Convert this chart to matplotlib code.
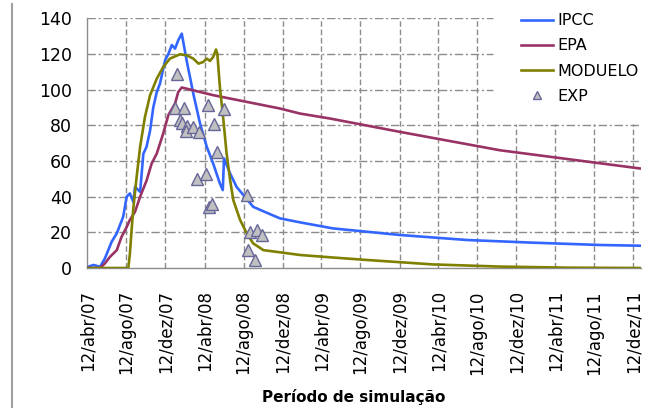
import datetime as dt
import matplotlib
matplotlib.use("Agg")
import matplotlib.pyplot as plt
from matplotlib.lines import Line2D

# Simulation start date; x values are days since this date
start_date = dt.date(2007, 4, 12)

# IPCC model
ipcc_days = [0, 3, 19, 40, 55, 76, 92, 112, 123, 133, 144, 149, 165, 175, 185,
             196, 206, 217, 227, 243, 253, 264, 274, 284, 295, 310, 331, 352,
             373, 393, 414, 423, 427, 446, 466, 487, 518, 560, 602, 664, 767,
             977, 1185, 1392, 1601, 1726]
ipcc_vals = [0, 0.7, 1.7, 0.7, 5.4, 14.7, 19.4, 28.7, 40, 41.8, 37, 45.5, 42.7,
             64, 68, 77, 90, 98.7, 103.4, 116.5, 120, 125, 123, 127.7, 131.4,
             116.5, 97.8, 81, 68, 58.6, 47.4, 43.7, 61.4, 53, 45.5, 41, 34.3,
             31, 27.8, 25.6, 22.2, 18.5, 15.7, 14.2, 12.9, 12.5]

# EPA model
epa_days = [0, 40, 55, 71, 92, 107, 123, 133, 149, 165, 185, 201, 217, 237,
            253, 274, 284, 295, 393, 602, 664, 758, 977, 1289, 1726]
epa_vals = [0, 0, 2.6, 6.3, 10, 17.5, 23, 27, 31.5, 40, 49, 58.6, 64.2, 75.4,
            85.7, 92.2, 98.7, 101.2, 96.9, 89.4, 86.6, 83.8, 76.3, 66, 55.8]

# MODUELO model
mod_days = [0, 128, 133, 139, 144, 154, 165, 180, 196, 217, 237, 258, 289,
            310, 331, 347, 362, 373, 383, 393, 402, 406, 414, 425, 435, 446,
            456, 477, 498, 518, 550, 602, 664, 758, 873, 1080, 1289, 1498,
            1726]
mod_vals = [0, 0, 8, 23, 34, 51, 68, 84.7, 96.9, 106.2, 112.7, 117.4, 119.8,
            119.3, 117.4, 114.6, 115.5, 117.4, 116.1, 118.3, 122.5, 120.2,
            101.5, 82.9, 64.2, 49.3, 38, 27, 19.4, 13.8, 10, 8.8, 7.3, 6, 4.5,
            2, 0.8, 0.2, 0]

# Experimental measurements
exp_days = [279, 274, 302, 289, 296, 310, 308, 331, 350, 376, 397, 427, 404,
            343, 371, 380, 388, 498, 508, 529, 545, 503, 524]
exp_vals = [109, 89.5, 89.5, 83, 81.5, 79.5, 77, 79, 76.5, 91.5, 80.6, 89.4,
            65, 49.7, 52.6, 34.3, 35.8, 40.9, 20.3, 21.5, 18.5, 10, 4.7]

# Axis ticks
month_names = {4: "abr", 8: "ago", 12: "dez"}
tick_dates = [dt.date(y, m, 12) for y in range(2007, 2012) for m in (4, 8, 12)]
tick_days = [(d - start_date).days for d in tick_dates]
tick_labels = [f"12/{month_names[d.month]}/{d.strftime('%y')}" for d in tick_dates]
y_ticks = [0, 20, 40, 60, 80, 100, 120, 140]

plt.rcParams["font.family"] = ["DejaVu Sans"]

fig = plt.figure(figsize=(6.54, 4.08), dpi=100)
W, H = 654, 408
ax_left, ax_right, ax_top, ax_bottom = 87.3, 641.0, 18.3, 268.0
ax = fig.add_axes([ax_left / W, (H - ax_bottom) / H,
                   (ax_right - ax_left) / W, (ax_bottom - ax_top) / H])
x_max, y_max = 1729, 140
ax.set_xlim(0, x_max)
ax.set_ylim(0, y_max)

c_ipcc = "#3366FF"
c_epa = "#993366"
c_mod = "#808000"

# Grid: dashed verticals, dash-dot horizontals, kept clear of the legend corner
panel_x0 = (493 - ax_left) / (ax_right - ax_left)
panel_y0 = (ax_bottom - 124) / (ax_bottom - ax_top)
grid_color = "#8C8C8C"
for xd in tick_days[1:]:
    top = panel_y0 if xd / x_max >= panel_x0 else 1.0
    ax.axvline(xd, ymin=0, ymax=top, color=grid_color, lw=1.0,
               linestyle=(0, (4, 2)), zorder=2)
for yv in y_ticks[1:]:
    right = panel_x0 if yv / y_max > panel_y0 else 1.0
    ax.axhline(yv, xmin=0, xmax=right, color=grid_color, lw=1.0,
               linestyle=(0, (6, 2, 1.5, 2)), zorder=2)

ax.plot(ipcc_days, ipcc_vals, color=c_ipcc, lw=1.9, label="IPCC", zorder=3)
ax.plot(epa_days, epa_vals, color=c_epa, lw=1.9, label="EPA", zorder=3)
ax.plot(mod_days, mod_vals, color=c_mod, lw=1.9, label="MODUELO", zorder=3)
ax.plot(exp_days, exp_vals, linestyle="none", marker="^", markersize=8.5,
        markerfacecolor="#C0C0C0", markeredgecolor="#666699",
        markeredgewidth=1.0, label="EXP", zorder=4)

ax.set_xticks(tick_days)
ax.set_xticklabels(tick_labels, rotation=90, fontsize=12)
ax.set_yticks(y_ticks)
ax.set_yticklabels([str(v) for v in y_ticks], fontsize=12.5)
ax.tick_params(axis="x", length=0, pad=16)
ax.tick_params(axis="y", length=0, pad=11)

for side in ("top", "right"):
    ax.spines[side].set_visible(False)
for side in ("left", "bottom"):
    ax.spines[side].set_color("#8C8C8C")
    ax.spines[side].set_linewidth(1.0)

ax.legend(loc="upper left", bbox_to_anchor=(521 / W, 1 - 13.4 / H),
          bbox_transform=fig.transFigure, frameon=False, fontsize=11.5,
          borderpad=0, borderaxespad=0, handlelength=2.0,
          handletextpad=0.3, labelspacing=0.63, numpoints=1,
          markerscale=0.75)

fig.text(353.5 / W, 6 / H, "Período de simulação", ha="center",
         va="baseline", fontsize=11, fontweight="bold")

# Outer frame edge on the left
fig.add_artist(Line2D([12 / W, 12 / W], [0, 1 - 4 / H], transform=fig.transFigure,
                      color="#A0A0A0", lw=1.5))

fig.savefig("out.png", dpi=100)
